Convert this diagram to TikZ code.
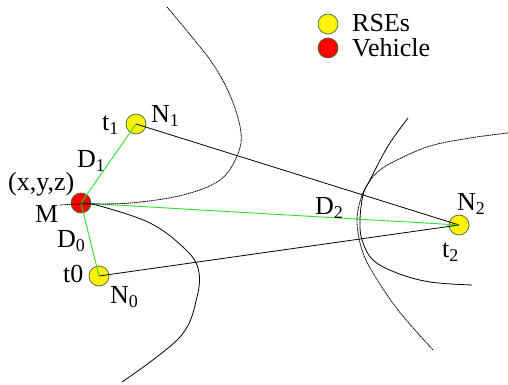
\documentclass[tikz,border=0pt]{standalone}
\usepackage{fontspec}
\setmainfont{Liberation Serif}
\newcommand{\lsub}[1]{\raisebox{-4pt}{\fontsize{18}{18}\selectfont #1}}
\definecolor{ringc}{RGB}{70,100,70}
\definecolor{lgreen}{RGB}{40,225,40}
\tikzset{
  rse/.style={circle, fill=yellow, draw=ringc, line width=0.7pt, minimum size=20pt, inner sep=0pt},
  veh/.style={circle, fill=red, draw=ringc, line width=0.7pt, minimum size=20pt, inner sep=0pt},
  lbl/.style={anchor=base west, inner sep=0pt, font=\fontsize{26}{26}\selectfont},
  dotcurve/.style={line width=0.8pt, black, dash pattern=on 1.3pt off 0.6pt},
  solcurve/.style={line width=0.8pt, black},
  blk/.style={line width=0.8pt, black},
  grn/.style={line width=0.9pt, lgreen}
}
\begin{document}
\begin{tikzpicture}[x=1pt,y=-1pt]
\useasboundingbox (0,0) rectangle (508,385);
% nodes
\node[veh] (M) at (81,203) {};
\node[rse] (N1) at (136,124) {};
\node[rse] (N0) at (99,276) {};
\node[rse] (N2) at (459,225) {};
\node[rse] (L1) at (328,24) {};
\node[veh] (L2) at (328,48) {};
% connectors
\draw[blk] (N1.center) -- (N2.center);
\draw[blk] (N0.center) -- (N2.center);
\draw[grn] (M.center) -- (N1.center);
\draw[grn] (M.center) -- (N0.center);
\draw[grn] (M.center) -- (N2.center);
% curves
\draw[dotcurve] plot[smooth, tension=0.6] coordinates {(167,7) (192,37) (215,67) (232,100) (241,133) (237,156) (220,180) (183,195) (130,203) (81,204) (60,205)};
\draw[solcurve] plot[smooth, tension=0.6] coordinates {(81,203) (100,206) (150,223) (183,247) (198,268) (197,297) (180,337) (122,382)};
\draw[solcurve] plot[smooth, tension=0.6] coordinates {(408,118) (388,146) (370,180) (363,195) (360,220) (362,240) (373,260) (397,273) (430,282) (472,285)};
\draw[dotcurve] plot[smooth, tension=0.6] coordinates {(508,133) (470,138) (430,146) (397,160) (380,170) (369,182) (361,198) (357,222) (362,250) (373,273) (398,310) (433,350)};
% labels
\node[lbl] (tRSE) at (352,32) {RSEs};
\node[lbl] (tVeh) at (352,57) {Vehicle};
\node[lbl] (tt1) at (102,130) {t\lsub{1}};
\node[lbl] (tN1) at (151,122) {N\lsub{1}};
\node[lbl] (tD1) at (77,167) {D\lsub{1}};
\node[lbl] (txyz) at (8,190) {(x,y,z)};
\node[lbl] (tM) at (35,222) {M};
\node[lbl] (tD0) at (57,247) {D\lsub{0}};
\node[lbl] (tt0) at (63,282) {t0};
\node[lbl] (tN0) at (110,303) {N\lsub{0}};
\node[lbl] (tD2) at (315,214) {D\lsub{2}};
\node[lbl] (tN2) at (457,210) {N\lsub{2}};
\node[lbl] (tt2) at (442,257) {t\lsub{2}};
\end{tikzpicture}
\end{document}
